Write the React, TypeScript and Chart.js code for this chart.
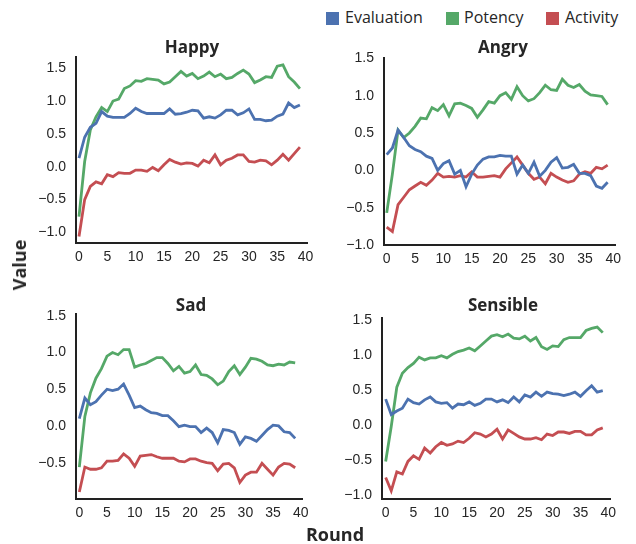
import React, { useEffect, useRef } from "react";
import { Chart, registerables } from "chart.js";

Chart.register(...registerables);

// ---------- data ----------
const ROUNDS = [0, 1, 2, 3, 4, 5, 6, 7, 8, 9, 10, 11, 12, 13, 14, 15, 16, 17, 18, 19, 20, 21, 22, 23, 24, 25, 26, 27, 28, 29, 30, 31, 32, 33, 34, 35, 36, 37, 38, 39];
const SERIES_NAMES = ["Evaluation", "Potency", "Activity"];
const X_TICK_STEP = 5;
const Y_TICK_STEP = 0.5;

const HAPPY_EVALUATION = [0.13, 0.45, 0.6, 0.66, 0.84, 0.77, 0.75, 0.75, 0.75, 0.81, 0.89, 0.84, 0.81, 0.81, 0.81, 0.81, 0.88, 0.8, 0.81, 0.83, 0.86, 0.85, 0.74, 0.76, 0.74, 0.79, 0.86, 0.86, 0.79, 0.82, 0.88, 0.72, 0.72, 0.7, 0.71, 0.77, 0.8, 0.97, 0.9, 0.94];
const HAPPY_POTENCY = [-0.76, 0.08, 0.56, 0.76, 0.9, 0.84, 1.0, 1.03, 1.19, 1.23, 1.31, 1.3, 1.34, 1.33, 1.32, 1.26, 1.29, 1.37, 1.45, 1.38, 1.42, 1.34, 1.38, 1.44, 1.37, 1.41, 1.34, 1.36, 1.42, 1.47, 1.41, 1.28, 1.32, 1.37, 1.36, 1.53, 1.55, 1.37, 1.29, 1.19];
const HAPPY_ACTIVITY = [-1.06, -0.5, -0.3, -0.23, -0.26, -0.12, -0.15, -0.09, -0.1, -0.1, -0.05, -0.05, -0.07, -0.01, -0.06, 0.03, 0.11, 0.07, 0.04, 0.06, 0.05, 0.01, 0.1, 0.06, 0.18, 0.03, 0.1, 0.13, 0.18, 0.18, 0.08, 0.07, 0.1, 0.09, 0.03, 0.1, 0.19, 0.1, 0.2, 0.3];

const ANGRY_EVALUATION = [0.21, 0.3, 0.54, 0.44, 0.33, 0.28, 0.25, 0.19, 0.16, 0.0, 0.09, 0.13, -0.05, 0.0, -0.22, -0.05, 0.07, 0.15, 0.18, 0.18, 0.2, 0.19, 0.19, -0.05, 0.07, -0.04, 0.11, -0.08, 0.0, 0.11, 0.17, 0.03, 0.04, 0.08, -0.04, -0.04, -0.07, -0.21, -0.24, -0.16];
const ANGRY_POTENCY = [-0.57, -0.05, 0.54, 0.44, 0.5, 0.59, 0.7, 0.69, 0.84, 0.8, 0.88, 0.73, 0.89, 0.9, 0.87, 0.83, 0.71, 0.81, 0.92, 0.9, 1.0, 1.04, 0.95, 1.12, 1.0, 0.93, 0.96, 1.04, 1.14, 1.08, 1.07, 1.22, 1.14, 1.11, 1.15, 1.06, 1.01, 1.0, 0.99, 0.88];
const ANGRY_ACTIVITY = [-0.76, -0.82, -0.46, -0.36, -0.26, -0.21, -0.16, -0.2, -0.13, -0.04, -0.09, -0.08, -0.09, -0.07, -0.09, -0.02, -0.09, -0.09, -0.08, -0.07, -0.09, 0.02, 0.1, 0.18, 0.07, -0.04, -0.12, -0.09, -0.18, -0.04, -0.09, -0.13, -0.16, -0.14, -0.05, -0.02, -0.04, 0.04, 0.02, 0.07];

const SAD_EVALUATION = [0.1, 0.38, 0.29, 0.33, 0.42, 0.5, 0.48, 0.5, 0.57, 0.42, 0.25, 0.27, 0.22, 0.18, 0.17, 0.14, 0.14, 0.07, -0.01, 0.01, -0.01, -0.01, -0.09, -0.03, -0.09, -0.23, -0.05, -0.06, -0.09, -0.25, -0.15, -0.17, -0.21, -0.13, -0.05, 0.01, 0.0, -0.08, -0.09, -0.17];
const SAD_POTENCY = [-0.56, 0.13, 0.45, 0.65, 0.78, 0.95, 1.0, 0.97, 1.04, 1.04, 0.8, 0.83, 0.85, 0.89, 0.93, 0.93, 0.85, 0.75, 0.81, 0.72, 0.74, 0.83, 0.7, 0.69, 0.64, 0.56, 0.61, 0.74, 0.82, 0.7, 0.8, 0.92, 0.91, 0.88, 0.83, 0.82, 0.84, 0.83, 0.87, 0.86];
const SAD_ACTIVITY = [-0.9, -0.56, -0.59, -0.59, -0.57, -0.48, -0.48, -0.47, -0.38, -0.44, -0.55, -0.41, -0.4, -0.39, -0.42, -0.44, -0.44, -0.44, -0.48, -0.49, -0.45, -0.45, -0.48, -0.5, -0.51, -0.61, -0.52, -0.51, -0.57, -0.77, -0.67, -0.63, -0.63, -0.51, -0.59, -0.67, -0.56, -0.51, -0.52, -0.57];

const SENSIBLE_EVALUATION = [0.37, 0.15, 0.2, 0.24, 0.37, 0.32, 0.3, 0.36, 0.4, 0.33, 0.31, 0.32, 0.24, 0.3, 0.29, 0.33, 0.28, 0.31, 0.37, 0.37, 0.33, 0.36, 0.32, 0.4, 0.33, 0.43, 0.4, 0.47, 0.41, 0.47, 0.45, 0.44, 0.42, 0.44, 0.47, 0.41, 0.49, 0.56, 0.47, 0.49];
const SENSIBLE_POTENCY = [-0.52, -0.02, 0.54, 0.74, 0.82, 0.88, 0.97, 0.93, 0.96, 0.96, 0.99, 0.96, 1.01, 1.05, 1.07, 1.1, 1.06, 1.13, 1.2, 1.27, 1.29, 1.26, 1.3, 1.24, 1.23, 1.27, 1.2, 1.25, 1.12, 1.08, 1.13, 1.12, 1.22, 1.25, 1.25, 1.25, 1.35, 1.38, 1.4, 1.32];
const SENSIBLE_ACTIVITY = [-0.75, -0.94, -0.67, -0.7, -0.52, -0.44, -0.49, -0.33, -0.4, -0.31, -0.25, -0.29, -0.27, -0.23, -0.25, -0.19, -0.11, -0.13, -0.17, -0.13, -0.06, -0.2, -0.07, -0.12, -0.17, -0.2, -0.2, -0.18, -0.21, -0.13, -0.15, -0.1, -0.1, -0.12, -0.09, -0.09, -0.14, -0.14, -0.07, -0.04];

// ---------- styling ----------
const COLORS = ["#4C72B0", "#55A868", "#C44E52"];
const TEXT = "#262626";
const TICK_FONT = "Liberation Sans";
const LABEL_FONT = "Open Sans";

type PanelSpec = {
  title: string;
  series: number[][];
  area: { left: number; top: number; right: number; bottom: number };
  x: [number, number];
  y: [number, number];
  titleX: number;
  titleY: number;
};

const PANELS: PanelSpec[] = [
  { title: "Happy", series: [HAPPY_EVALUATION, HAPPY_POTENCY, HAPPY_ACTIVITY], area: { left: 76, top: 57, right: 307, bottom: 243 }, x: [-0.53, 40.25], y: [-1.16, 1.67], titleX: 192, titleY: 53 },
  { title: "Angry", series: [ANGRY_EVALUATION, ANGRY_POTENCY, ANGRY_ACTIVITY], area: { left: 384, top: 58, right: 615, bottom: 245 }, x: [-0.48, 40.3], y: [-1.0, 1.505], titleX: 503, titleY: 53 },
  { title: "Sad", series: [SAD_EVALUATION, SAD_POTENCY, SAD_ACTIVITY], area: { left: 76, top: 314, right: 302, bottom: 499 }, x: [-0.6, 40.23], y: [-0.995, 1.524], titleX: 191, titleY: 311 },
  { title: "Sensible", series: [SENSIBLE_EVALUATION, SENSIBLE_POTENCY, SENSIBLE_ACTIVITY], area: { left: 382, top: 318, right: 610, bottom: 499 }, x: [-0.66, 40.3], y: [-1.057, 1.529], titleX: 503, titleY: 311 },
];

const PAD_LEFT = 50;
const PAD_TOP = 30;
const PAD_RIGHT = 15;
const PAD_BOTTOM = 30;

function fmtY(v: number) {
  const s = Math.abs(v).toFixed(1);
  return v < -1e-9 ? "\u2212" + s : s;
}

function Panel({ spec }: { spec: PanelSpec }) {
  const ref = useRef<HTMLCanvasElement | null>(null);
  const cLeft = spec.area.left - PAD_LEFT;
  const cTop = spec.area.top - PAD_TOP;
  const cW = spec.area.right - spec.area.left + PAD_LEFT + PAD_RIGHT;
  const cH = spec.area.bottom - spec.area.top + PAD_TOP + PAD_BOTTOM;

  useEffect(() => {
    if (!ref.current) return;
    const titlePlugin = {
      id: "panelTitle",
      afterDraw(chart: any) {
        const ctx = chart.ctx;
        ctx.save();
        ctx.font = `bold 17px "${LABEL_FONT}"`;
        ctx.fillStyle = TEXT;
        ctx.textAlign = "center";
        ctx.textBaseline = "alphabetic";
        ctx.fillText(spec.title, spec.titleX - cLeft, spec.titleY - cTop);
        ctx.restore();
      },
    };
    const chart = new Chart(ref.current, {
      type: "line",
      data: {
        datasets: spec.series.map((vals, i) => ({
          label: SERIES_NAMES[i],
          data: ROUNDS.map((r, j) => ({ x: r, y: vals[j] })),
          borderColor: COLORS[i],
          backgroundColor: COLORS[i],
          borderWidth: 2.8,
          pointRadius: 0,
          tension: 0,
          fill: false,
        })),
      },
      options: {
        animation: false,
        responsive: false,
        maintainAspectRatio: false,
        layout: { padding: { top: PAD_TOP, right: PAD_RIGHT, left: 0, bottom: 0 } },
        plugins: { legend: { display: false }, tooltip: { enabled: false }, title: { display: false } },
        scales: {
          x: {
            type: "linear",
            min: spec.x[0],
            max: spec.x[1],
            grid: { display: false, drawTicks: false },
            border: { display: true, color: "#222222", width: 2 },
            ticks: {
              stepSize: X_TICK_STEP,
              includeBounds: false,
              autoSkip: false,
              maxRotation: 0,
              padding: 6,
              color: TEXT,
              font: { family: TICK_FONT, size: 14 },
              callback: (v: any) => String(Math.round(Number(v))),
            },
            afterFit: (s: any) => { s.height = PAD_BOTTOM; },
          },
          y: {
            type: "linear",
            min: spec.y[0],
            max: spec.y[1],
            grid: { display: false, drawTicks: false },
            border: { display: true, color: "#222222", width: 2 },
            ticks: {
              stepSize: Y_TICK_STEP,
              includeBounds: false,
              autoSkip: false,
              padding: 10,
              color: TEXT,
              font: { family: TICK_FONT, size: 14 },
              callback: (v: any) => fmtY(Number(v)),
            },
            afterFit: (s: any) => { s.width = PAD_LEFT; },
          },
        },
      },
      plugins: [titlePlugin],
    } as any);
    return () => chart.destroy();
  }, [spec]);

  return (
    <canvas
      ref={ref}
      width={cW}
      height={cH}
      style={{ position: "absolute", left: cLeft, top: cTop, width: cW, height: cH }}
    />
  );
}

export default function App() {
  const legendItems = [
    { patch: 326, text: 345 },
    { patch: 446, text: 464 },
    { patch: 546, text: 565 },
  ];
  return (
    <div style={{ position: "fixed", left: 0, top: 0, width: 636, height: 544, background: "#fff", overflow: "hidden" }}>
      {PANELS.map((p) => (
        <Panel key={p.title} spec={p} />
      ))}
      {SERIES_NAMES.map((name, i) => (
        <React.Fragment key={name}>
          <div style={{ position: "absolute", left: legendItems[i].patch, top: 12, width: 13, height: 13, background: COLORS[i] }} />
          <span style={{ position: "absolute", left: legendItems[i].text, top: 6, font: `16px "${LABEL_FONT}"`, color: TEXT, whiteSpace: "nowrap" }}>{name}</span>
        </React.Fragment>
      ))}
      <div style={{ position: "absolute", left: 19, top: 265, transform: "translate(-50%, -50%) rotate(-90deg)", font: `bold 18px "${LABEL_FONT}"`, color: TEXT, whiteSpace: "nowrap" }}>Value</div>
      <div style={{ position: "absolute", left: 335, top: 534, transform: "translate(-50%, -50%)", font: `bold 18px "${LABEL_FONT}"`, color: TEXT, whiteSpace: "nowrap" }}>Round</div>
    </div>
  );
}
